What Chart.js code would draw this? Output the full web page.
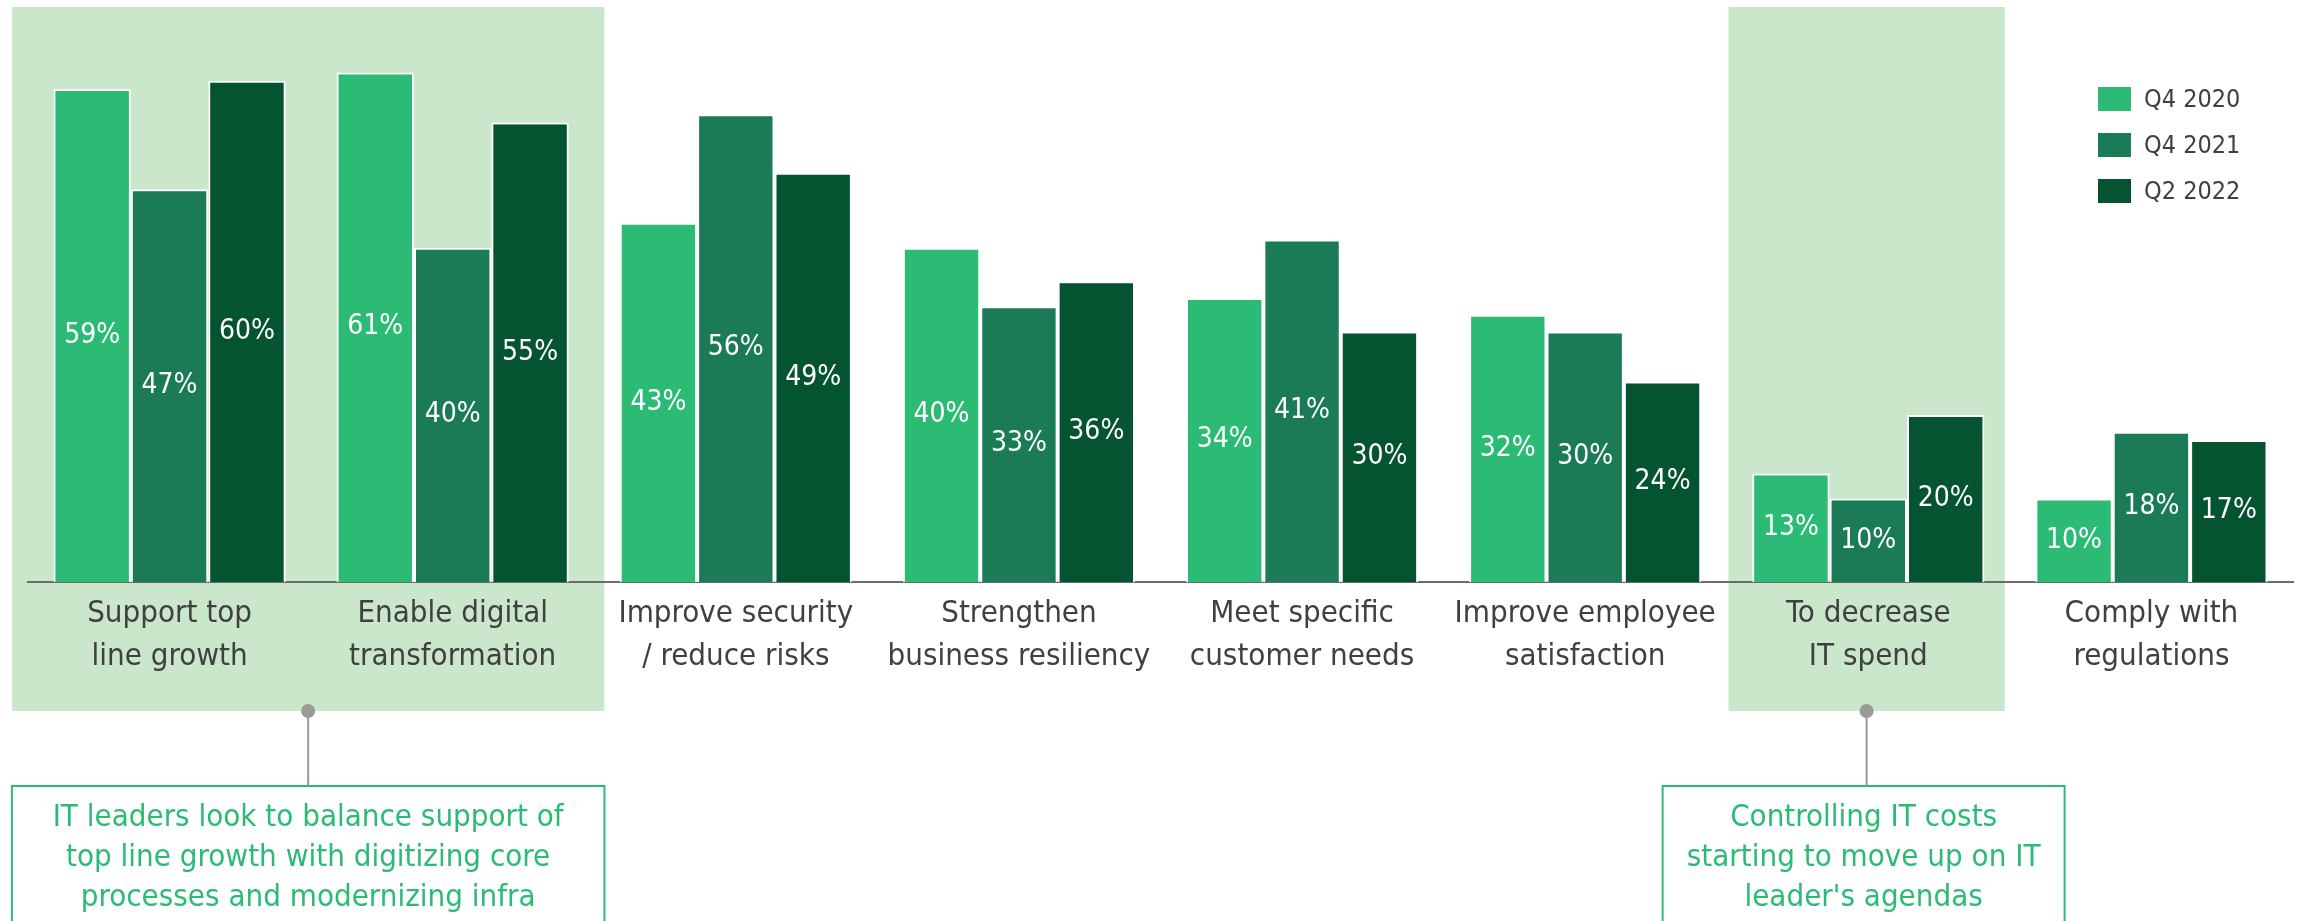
<!DOCTYPE html>
<html>
<head>
<meta charset="utf-8">
<script src="https://cdn.jsdelivr.net/npm/chart.js@4.4.1/dist/chart.umd.min.js"></script>
<style>
  html, body { margin: 0; padding: 0; background: #ffffff; }
  #wrap { position: relative; width: 2300px; height: 921px; }
</style>
</head>
<body>
<div id="wrap"><canvas id="chart"></canvas></div>
<script>
// ---- data ----
const categories = [
  ['Support top', 'line growth'],
  ['Enable digital', 'transformation'],
  ['Improve security', '/ reduce risks'],
  ['Strengthen', 'business resiliency'],
  ['Meet specific', 'customer needs'],
  ['Improve employee', 'satisfaction'],
  ['To decrease', 'IT spend'],
  ['Comply with', 'regulations']
];
const seriesNames = ['Q4 2020', 'Q4 2021', 'Q2 2022'];
const q4_2020 = [59, 61, 43, 40, 34, 32, 13, 10];
const q4_2021 = [47, 40, 56, 33, 41, 30, 10, 18];
const q2_2022 = [60, 55, 49, 36, 30, 24, 20, 17];

// highlighted category ranges and the notes attached to them
const highlightRanges = [[0, 1], [6, 6]];
const noteTexts = [
  ['IT leaders look to balance support of', 'top line growth with digitizing core', 'processes and modernizing infra'],
  ['Controlling IT costs', 'starting to move up on IT', "leader's agendas"]
];

// ---- style ----
const FONT = "'DejaVu Sans Condensed', 'DejaVu Sans', sans-serif";
const SERIES_COLORS = ['#2BBB75', '#1A7B56', '#045331'];
const BAND_FILL = '#CAE7CC';
const TEXT_DARK = '#404040';
const NOTE_GREEN = '#2BBB75';
const CONNECTOR_GREY = '#9A9A9A';

// band extents (fraction of a category step beyond the outer category centres)
const bandStyle = [
  { padL: 0.557, padR: 0.536, boxHalf: null },
  { padL: 0.494, padR: 0.482, boxHalf: 201 }
];
const BAND_TOP = 7, BAND_BOTTOM = 711, BOX_TOP = 786;
const NOTE_LINE_Y = [818, 858, 898];

const bandsAndNotes = {
  id: 'bandsAndNotes',
  beforeDraw(chart) {
    const { ctx } = chart;
    const x = chart.scales.x;
    const step = x.getPixelForValue(1) - x.getPixelForValue(0);
    ctx.save();
    ctx.fillStyle = BAND_FILL;
    highlightRanges.forEach(([a, b], i) => {
      const l = x.getPixelForValue(a) - bandStyle[i].padL * step;
      const r = x.getPixelForValue(b) + bandStyle[i].padR * step;
      ctx.fillRect(l, BAND_TOP, r - l, BAND_BOTTOM - BAND_TOP);
    });
    ctx.restore();
  },
  afterDraw(chart) {
    const { ctx } = chart;
    const x = chart.scales.x;
    const step = x.getPixelForValue(1) - x.getPixelForValue(0);
    ctx.save();
    highlightRanges.forEach(([a, b], i) => {
      const l = x.getPixelForValue(a) - bandStyle[i].padL * step;
      const r = x.getPixelForValue(b) + bandStyle[i].padR * step;
      const cx = (l + r) / 2;
      let bl = l, br = r;
      if (bandStyle[i].boxHalf) { bl = cx - 3 - bandStyle[i].boxHalf; br = cx - 3 + bandStyle[i].boxHalf; }
      const bc = (bl + br) / 2;
      // connector
      ctx.strokeStyle = CONNECTOR_GREY;
      ctx.lineWidth = 2;
      ctx.beginPath();
      ctx.moveTo(cx, BAND_BOTTOM);
      ctx.lineTo(cx, BOX_TOP);
      ctx.stroke();
      ctx.fillStyle = CONNECTOR_GREY;
      ctx.beginPath();
      ctx.arc(cx, BAND_BOTTOM, 7, 0, Math.PI * 2);
      ctx.fill();
      // note box (open at the bottom edge of the canvas)
      ctx.strokeStyle = NOTE_GREEN;
      ctx.lineWidth = 2;
      ctx.beginPath();
      ctx.moveTo(bl, chart.height + 10);
      ctx.lineTo(bl, BOX_TOP);
      ctx.lineTo(br, BOX_TOP);
      ctx.lineTo(br, chart.height + 10);
      ctx.stroke();
      ctx.fillStyle = NOTE_GREEN;
      ctx.font = `31px ${FONT}`;
      ctx.textAlign = 'center';
      ctx.textBaseline = 'middle';
      noteTexts[i].forEach((t, k) => ctx.fillText(t, bc, NOTE_LINE_Y[k]));
    });
    ctx.restore();
  }
};

const barValueLabels = {
  id: 'barValueLabels',
  afterDatasetsDraw(chart) {
    const { ctx } = chart;
    ctx.save();
    ctx.fillStyle = '#ffffff';
    ctx.font = `28px ${FONT}`;
    ctx.textAlign = 'center';
    ctx.textBaseline = 'middle';
    chart.data.datasets.forEach((ds, di) => {
      const meta = chart.getDatasetMeta(di);
      meta.data.forEach((bar, i) => {
        const p = bar.getProps(['x', 'y', 'base'], true);
        ctx.fillText(ds.data[i] + '%', p.x, (p.y + p.base) / 2);
      });
    });
    ctx.restore();
  }
};

const sideLegend = {
  id: 'sideLegend',
  afterDraw(chart) {
    const { ctx } = chart;
    const rowsY = [99, 145, 191];
    ctx.save();
    ctx.font = `25px ${FONT}`;
    ctx.textAlign = 'left';
    ctx.textBaseline = 'middle';
    chart.data.datasets.forEach((ds, i) => {
      ctx.fillStyle = ds.backgroundColor;
      ctx.fillRect(2098, rowsY[i] - 12, 33, 24);
      ctx.fillStyle = TEXT_DARK;
      ctx.fillText(ds.label, 2144, rowsY[i] + 1);
    });
    ctx.restore();
  }
};

const seriesValues = [q4_2020, q4_2021, q2_2022];

new Chart(document.getElementById('chart'), {
  type: 'bar',
  data: {
    labels: categories,
    datasets: seriesNames.map((name, i) => ({
      label: name,
      data: seriesValues[i],
      backgroundColor: SERIES_COLORS[i],
      borderColor: '#ffffff',
      borderWidth: 2,
      borderSkipped: 'start',
      categoryPercentage: 0.82,
      barPercentage: 1.0
    }))
  },
  options: {
    responsive: true,
    maintainAspectRatio: false,
    animation: false,
    events: [],
    layout: { padding: { top: 39, left: 28, right: 7, bottom: 0 } },
    plugins: { legend: { display: false }, tooltip: { enabled: false } },
    scales: {
      x: {
        z: 1,
        grid: { display: false, drawTicks: false },
        border: { display: true, color: '#6B6B6B', width: 2 },
        ticks: {
          color: TEXT_DARK,
          font: { family: FONT, size: 31, lineHeight: 43 / 31 },
          padding: 10,
          maxRotation: 0,
          autoSkip: false
        },
        afterFit(scale) { scale.height = 339; }
      },
      y: { display: false, min: 0, max: 65 }
    }
  },
  plugins: [bandsAndNotes, barValueLabels, sideLegend]
});
</script>
</body>
</html>
